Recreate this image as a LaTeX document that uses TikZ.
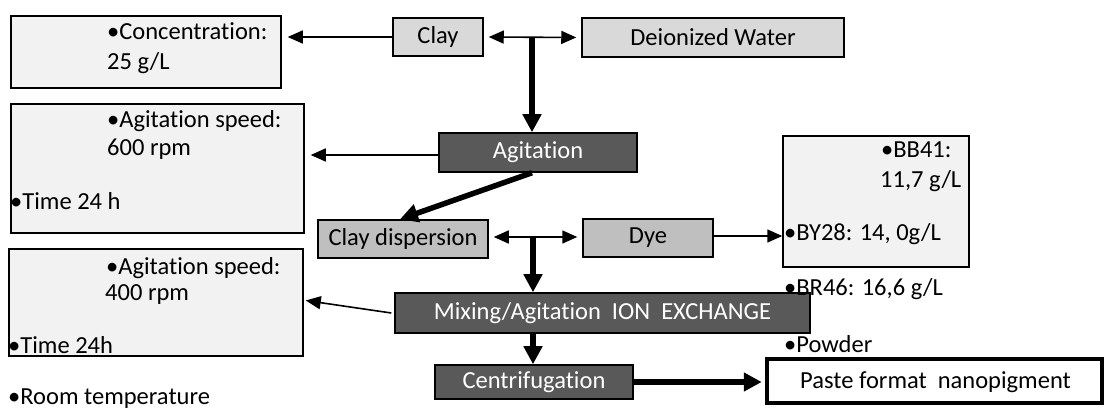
\documentclass[tikz,border=0pt]{standalone}
\usepackage{fontspec}
\setmainfont{Carlito}[Ligatures={NoCommon,NoContextual}]
\usetikzlibrary{arrows.meta,calc}
\definecolor{lightbox}{HTML}{F2F2F2}
\definecolor{claygray}{HTML}{D9D9D9}
\definecolor{midgray}{HTML}{BFBFBF}
\definecolor{darkgray}{HTML}{595959}
\begin{document}
\begin{tikzpicture}[x=1pt,y=-1pt,
  every node/.style={font=\fontsize{24.5}{28}\selectfont},
  panel/.style={draw=black, line width=1.5pt, fill=lightbox, inner sep=0pt},
  lightstep/.style={draw=black, line width=1.5pt, fill=claygray, inner sep=0pt},
  midstep/.style={draw=black, line width=1.5pt, fill=midgray, inner sep=0pt},
  darkstep/.style={draw=black, line width=1.5pt, fill=darkgray, text=white, inner sep=0pt},
  txt/.style={anchor=base west, inner sep=0pt},
  thinarrow/.style={line width=1.6pt, -{Triangle[length=15pt,width=13pt]}},
  dblarrow/.style={line width=1.6pt, {Triangle[length=15pt,width=13pt]}-{Triangle[length=15pt,width=13pt]}},
  thickarrow/.style={line width=5.5pt, -{Triangle[length=18pt,width=18pt]}}
]
\useasboundingbox (0,0) rectangle (1106,411);

% parameter panels
\node[panel, minimum width=270pt, minimum height=72pt] (c1) at (146,52) {};
\node[panel, minimum width=293pt, minimum height=129pt] (c2) at (157.5,168.5) {};
\node[panel, minimum width=294pt, minimum height=107pt] (c4) at (156,302.5) {};
\node[panel, minimum width=186pt, minimum height=131pt] (c3) at (876,201.5) {};

% process steps
\node[lightstep, minimum width=90pt, minimum height=38pt] (clay) at (438,37) {Clay};
\node[lightstep, minimum width=262pt, minimum height=39pt] (dw) at (713,37.5) {Deionized Water};
\node[darkstep, minimum width=198pt, minimum height=39pt] (agit) at (538,152.5) {Agitation};
\node[midstep, minimum width=170pt, minimum height=38pt] (cd) at (403,239) {Clay dispersion};
\node[midstep, minimum width=130pt, minimum height=38pt] (dye) at (648,238) {Dye};
\node[darkstep, minimum width=415pt, minimum height=40pt] (mix) at (602.5,313) {Mixing/Agitation\ \ ION\ \ EXCHANGE};
\node[darkstep, minimum width=198pt, minimum height=34pt] (cen) at (534,382) {Centrifugation};
\node[draw=black, line width=4.5pt, fill=white, minimum width=335pt, minimum height=44pt, inner sep=0pt] (paste) at (934.5,381) {};
\node[txt] (pastetxt) at (800,389) {Paste format\ \ nanopigment};

% texts
\node[txt] (t1a) at (107,40) {•Concentration:};
\node[txt] (t1b) at (107,70) {25 g/L};
\node[txt] (t2a) at (107,128) {•Agitation speed:};
\node[txt] (t2b) at (107,156) {600 rpm};
\node[txt] (t2c) at (10,210) {•Time 24 h};
\node[txt] (t4a) at (106,275) {•Agitation speed:};
\node[txt] (t4b) at (105,301) {400 rpm};
\node[txt] (t4c) at (8,354) {•Time 24h};
\node[txt] (troom) at (8,405) {•Room temperature};
\node[txt] (t3a) at (881,158) {•BB41:};
\node[txt] (t3b) at (880,188) {11,7 g/L};
\node[txt] (t3c) at (784,241) {•BY28: 14, 0g/L};
\node[txt] (tbr) at (784,296) {•BR46: 16,6 g/L};
\node[txt] (tpow) at (784,353) {•Powder};

% junctions
\coordinate (j1) at (532,37);
\coordinate (j2) at (533,237);

% connectors
\draw[thinarrow, shorten >=6pt] (clay.west) -- (clay.west -| c1.east);
\draw[dblarrow, shorten <=5pt, shorten >=5pt] (clay.east) -- (dw.west);
\draw[thickarrow] (j1) -- (j1 |- agit.north);
\draw[thinarrow, shorten >=6pt] ($(agit.west)+(0,2.5)$) -- ($(agit.west -| c2.east)+(0,2.5)$);
\draw[thickarrow] ($(agit.south)+(-6,0)$) -- ($(cd.north)+(-3,0)$);
\draw[dblarrow, shorten <=5pt, shorten >=5pt] ($(cd.east)+(0,-2)$) -- ($(dye.west)+(0,-1)$);
\draw[thickarrow] (j2) -- (j2 |- mix.north);
\draw[thinarrow] ($(dye.east)+(0,-2)$) -- ($(dye.east -| c3.west)+(0,-2)$);
\draw[thinarrow] ($(mix.west)+(-3,0)$) -- ($(c4.east)+(2,-2)$);
\draw[thickarrow] (j2 |- mix.south) -- (j2 |- cen.north);
\draw[thickarrow, shorten >=3pt] (cen.east) -- (cen.east -| paste.west);
\end{tikzpicture}
\end{document}
